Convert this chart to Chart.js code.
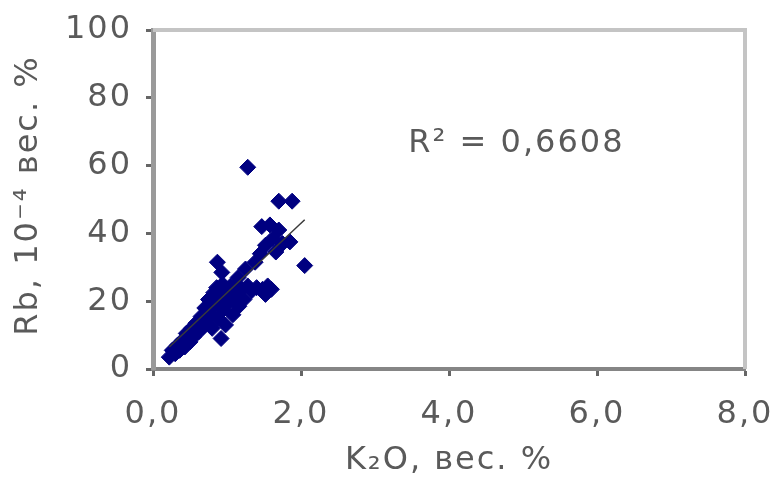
<!DOCTYPE html>
<html>
<head>
<meta charset="utf-8">
<script src="https://cdn.jsdelivr.net/npm/chart.js@4/dist/chart.umd.min.js"></script>
<style>
  html, body { margin: 0; padding: 0; background: #ffffff; }
  #wrap { width: 778px; height: 478px; }
</style>
</head>
<body>
<div id="wrap"><canvas id="c" width="778" height="478"></canvas></div>
<script>
// K2O (wt.%) and Rb (10^-4 wt.%) of the samples
const k2o = [
  0.22, 0.26, 0.30, 0.33, 0.36,
  0.40, 0.43, 0.45, 0.50, 0.52, 0.55, 0.58, 0.62,
  0.65, 0.68, 0.70, 0.72, 0.75, 0.78, 0.80, 0.82,
  0.85, 0.86, 0.88, 0.90, 0.92, 0.94, 0.95, 0.98, 1.00,
  1.02, 1.05, 1.08, 1.10, 1.13, 1.16, 1.20, 1.23, 1.28, 1.33, 1.40, 1.48, 1.55, 1.52, 1.60,
  0.87, 0.93, 1.15, 1.25, 1.38, 1.45, 1.52, 1.47, 1.58, 1.62, 1.70, 1.66, 1.75, 1.85,
  1.70, 1.88, 1.28, 2.05
];
const rb = [
  3.5, 5.5, 4.5, 7.0, 5.5,
  8.5, 6.5, 10.5, 8.0, 12.0, 9.5, 13.5, 11.0,
  15.5, 12.5, 18.0, 14.5, 20.5, 16.5, 12.0, 22.5,
  19.0, 24.0, 15.0, 21.0, 9.0, 25.0, 17.5, 13.0, 22.5,
  19.5, 24.5, 16.0, 21.5, 25.0, 18.5, 23.5, 20.5, 24.5, 23.0, 24.0, 23.5, 24.5, 22.0, 23.5,
  31.5, 28.5, 27.0, 29.5, 31.5, 34.0, 36.5, 42.0, 42.5, 38.5, 41.0, 34.5, 37.0, 37.5,
  49.5, 49.5, 59.5, 30.5
];

// linear trend of Rb on K2O
const trendSlope = 20.5;
const trendIntercept = 2.0;
const r2Text = 'R² = 0,6608';

// axes
const xTickValues = [0, 2, 4, 6, 8];
const xTickLabels = ['0,0', '2,0', '4,0', '6,0', '8,0'];
const yTickValues = [0, 20, 40, 60, 80, 100];
const yTickLabels = ['0', '20', '40', '60', '80', '100'];
const xTitle = 'K₂O, вес. %';
const yTitle = 'Rb, 10⁻⁴ вес. %';

const FONT = '"DejaVu Sans", sans-serif';
const TEXT = '#5a5a5a';

const points = k2o.map((x, i) => ({ x: x, y: rb[i] }));
const xMin = Math.min(...k2o), xMax = Math.max(...k2o);
const trend = [
  { x: xMin, y: trendSlope * xMin + trendIntercept },
  { x: xMax, y: trendSlope * xMax + trendIntercept }
];

// frame, axis titles and the R² note
const decor = {
  id: 'decor',
  beforeDraw(chart) {
    chart.ctx.letterSpacing = '2px';
  },
  beforeDatasetsDraw(chart) {
    const { ctx, chartArea: a } = chart;
    ctx.save();
    ctx.strokeStyle = '#c4c4c4';
    ctx.lineWidth = 4;
    ctx.beginPath();
    ctx.moveTo(a.left, a.top);
    ctx.lineTo(a.right, a.top);
    ctx.lineTo(a.right, a.bottom);
    ctx.stroke();
    ctx.restore();
  },
  afterDraw(chart) {
    const { ctx, chartArea: a, scales } = chart;
    ctx.save();
    ctx.letterSpacing = '2px';
    ctx.fillStyle = TEXT;
    ctx.font = '32px ' + FONT;

    ctx.textAlign = 'center';
    ctx.textBaseline = 'middle';
    ctx.fillText(xTitle, (a.left + a.right) / 2, 461);

    ctx.save();
    ctx.translate(29, (a.top + a.bottom) / 2 - 4);
    ctx.rotate(-Math.PI / 2);
    ctx.fillText(yTitle, 0, 0);
    ctx.restore();

    ctx.textAlign = 'left';
    ctx.textBaseline = 'alphabetic';
    ctx.fillText(r2Text, scales.x.getPixelForValue(3.45), scales.y.getPixelForValue(64));
    ctx.restore();
  }
};

new Chart(document.getElementById('c'), {
  data: {
    datasets: [
      {
        type: 'line',
        data: trend,
        borderColor: '#3a3a3a',
        borderWidth: 1.5,
        pointRadius: 0,
        fill: false,
        order: 0
      },
      {
        type: 'scatter',
        data: points,
        pointStyle: 'rectRot',
        pointRadius: 8,
        backgroundColor: '#000080',
        borderColor: '#000080',
        borderWidth: 1,
        order: 1
      }
    ]
  },
  options: {
    responsive: false,
    animation: false,
    events: [],
    layout: { padding: { left: 0, top: 30, right: 33, bottom: 0 } },
    plugins: { legend: { display: false }, tooltip: { enabled: false } },
    scales: {
      x: {
        type: 'linear',
        min: 0,
        max: 8,
        afterBuildTicks: s => { s.ticks = xTickValues.map(v => ({ value: v })); },
        afterFit: s => { s.height = 109; s.paddingLeft = 0; s.paddingRight = 0; },
        ticks: {
          color: TEXT,
          font: { family: FONT, size: 32 },
          padding: 19,
          maxRotation: 0,
          callback: v => xTickLabels[xTickValues.indexOf(v)]
        },
        grid: { drawOnChartArea: false, drawTicks: true, tickLength: 7, tickColor: '#666666', tickWidth: 3 },
        border: { color: '#858585', width: 4 }
      },
      y: {
        type: 'linear',
        min: 0,
        max: 100,
        afterBuildTicks: s => { s.ticks = yTickValues.map(v => ({ value: v })); },
        afterFit: s => { s.width = 153; s.paddingTop = 0; s.paddingBottom = 0; },
        ticks: {
          color: TEXT,
          font: { family: FONT, size: 32 },
          padding: 14,
          callback: v => yTickLabels[yTickValues.indexOf(v)]
        },
        grid: { drawOnChartArea: false, drawTicks: true, tickLength: 7, tickColor: '#666666', tickWidth: 3 },
        border: { color: '#9a9a9a', width: 5 }
      }
    }
  },
  plugins: [decor]
});
</script>
</body>
</html>
